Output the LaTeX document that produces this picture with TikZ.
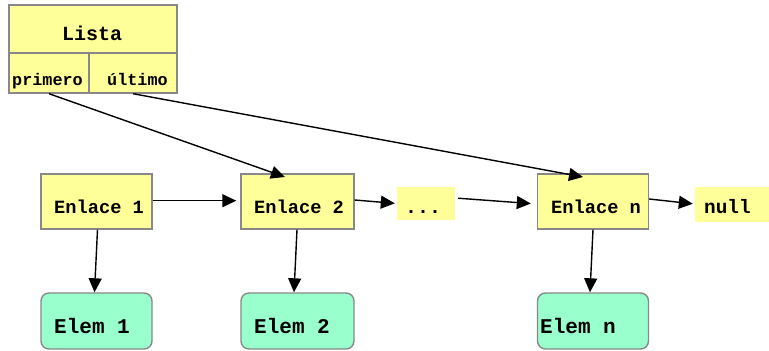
\documentclass[tikz,border=0pt]{standalone}
\usepackage{fontspec}
\newfontfamily\cour{Liberation Mono}
\usetikzlibrary{arrows.meta}
\definecolor{boxyellow}{HTML}{FFFF99}
\definecolor{boxmint}{HTML}{99FFCC}
\definecolor{boxgray}{HTML}{888888}
\tikzset{
  x=1pt, y=-1pt,
  ybox/.style={draw=boxgray, line width=1.4pt, fill=boxyellow, inner sep=0pt},
  mbox/.style={draw=boxgray, line width=1.4pt, fill=boxmint, rounded corners=8pt, inner sep=0pt},
  plain/.style={fill=boxyellow, inner sep=0pt},
  txt/.style={anchor=base west, inner sep=0pt, font=\cour\bfseries},
  arr/.style={-{Triangle[length=14pt,width=13pt]}, line width=1.4pt, black},
}
\begin{document}
\begin{tikzpicture}
\useasboundingbox (0,0) rectangle (769,351);
% Lista
\node[ybox, minimum width=168pt, minimum height=48pt] (lista) at (93,29) {};
\node[ybox, minimum width=80pt, minimum height=40pt] (primero) at (49,73) {};
\node[ybox, minimum width=88pt, minimum height=40pt] (ultimo) at (133,73) {};
\node[txt, font=\cour\bfseries\fontsize{20}{20}\selectfont] (tlista) at (62,40.7) {Lista};
\node[txt, font=\cour\bfseries\fontsize{16.8}{17}\selectfont] (tprim) at (12,85) {primero};
\node[txt, font=\cour\bfseries\fontsize{16.8}{17}\selectfont] (tult) at (107,85) {último};
% Enlaces
\node[ybox, minimum width=111pt, minimum height=55pt] (e1) at (96.5,201.5) {};
\node[ybox, minimum width=113pt, minimum height=55pt] (e2) at (297.5,201.5) {};
\node[ybox, minimum width=111pt, minimum height=55pt] (en) at (593,201.5) {};
\node[plain, minimum width=58pt, minimum height=33pt] (dots) at (426,203.5) {};
\node[plain, minimum width=74pt, minimum height=35pt] (null) at (732,204.5) {};
\node[txt, font=\cour\bfseries\fontsize{18.7}{19}\selectfont] (te1) at (54,213) {Enlace 1};
\node[txt, font=\cour\bfseries\fontsize{18.7}{19}\selectfont] (te2) at (254,213) {Enlace 2};
\node[txt, font=\cour\bfseries\fontsize{18.7}{19}\selectfont] (ten) at (551,213) {Enlace n};
\node[txt, font=\cour\bfseries\fontsize{20}{20}\selectfont] (tdots) at (405,213) {...};
\node[txt, font=\cour\bfseries\fontsize{19.4}{20}\selectfont] (tnull) at (704,213) {null};
% Elems
\node[mbox, minimum width=111pt, minimum height=56pt] (m1) at (96.5,321) {};
\node[mbox, minimum width=113pt, minimum height=56pt] (m2) at (297.5,321) {};
\node[mbox, minimum width=111pt, minimum height=56pt] (mn) at (593,321) {};
\node[txt, font=\cour\bfseries\fontsize{21}{21}\selectfont] (tm1) at (54,333) {Elem 1};
\node[txt, font=\cour\bfseries\fontsize{21}{21}\selectfont] (tm2) at (254,333) {Elem 2};
\node[txt, font=\cour\bfseries\fontsize{21}{21}\selectfont] (tmn) at (540,333) {Elem n};
% arrows
\coordinate (p2) at (285,177);
\coordinate (pn) at (583,177);
\draw[arr] (primero.south) -- (p2);
\draw[arr] (ultimo.south) -- (pn);
\draw[arr, shorten >=4pt] (e1.east |- 0,200.7) -- (e2.west |- 0,200.7);
\draw[arr, shorten >=2pt] (e2.east |- 0,200) -- (dots.west |- 0,203.5);
\draw[arr, shorten <=3pt, shorten >=6pt] (dots.east |- 0,198) -- (en.west |- 0,204);
\draw[arr, shorten >=2pt] (en.east |- 0,199) -- (null.west |- 0,204);
\draw[arr] (e1.south -| 97.5,0) -- (m1.north -| 94.5,0);
\draw[arr] (e2.south -| 297,0) -- (m2.north -| 294,0);
\draw[arr] (en.south -| 593,0) -- (mn.north -| 590,0);
\end{tikzpicture}
\end{document}
